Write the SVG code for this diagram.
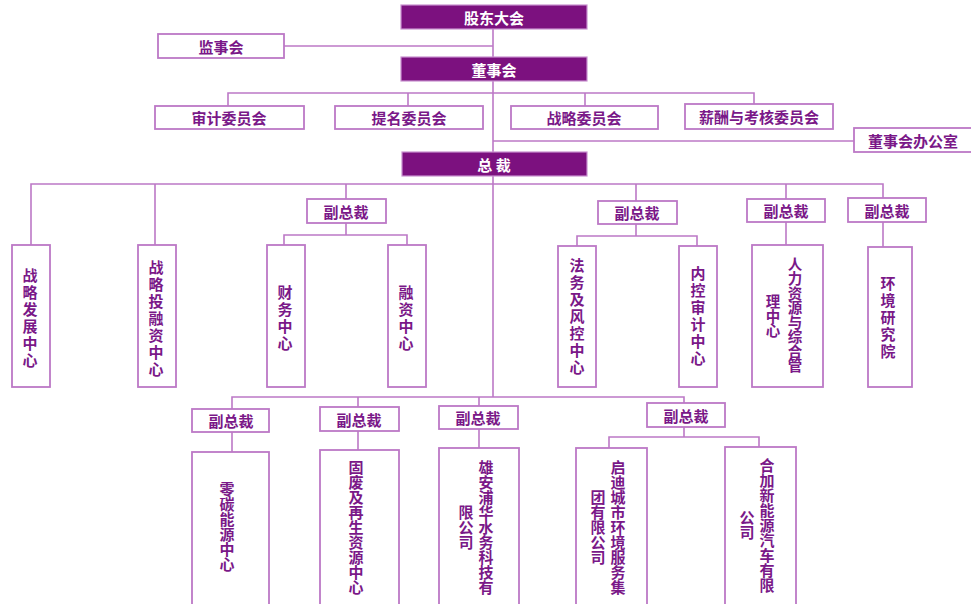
<svg xmlns="http://www.w3.org/2000/svg" width="971" height="604" viewBox="0 0 971 604">
<style>
.bg{fill:#ffffff}
.ln{stroke:#BC78C6;stroke-width:1.6;fill:none}
.dk{fill:#7C117F;stroke:#C891CF;stroke-width:1.2}
.wb{fill:#ffffff;stroke:#BC78C6;stroke-width:1.8}
.tw{fill:#ffffff;font-family:"Noto Sans CJK SC","Noto Sans",sans-serif;font-weight:bold;font-size:15px;text-anchor:middle;dominant-baseline:central}
.tp{fill:#7A1888;font-family:"Noto Sans CJK SC","Noto Sans",sans-serif;font-weight:bold;font-size:15px;text-anchor:middle;dominant-baseline:central}
.v{fill:#7A1888;font-family:"Noto Sans CJK SC","Noto Sans",sans-serif;font-weight:bold;font-size:15px;text-anchor:middle;writing-mode:vertical-rl;text-orientation:upright}
.v2{letter-spacing:2px}
.v3{font-size:14.5px}
</style>
<rect class="bg" x="0" y="0" width="971" height="604"/>
<g id="connectors">
<path class="ln" d="M493,29V397"/>
<path class="ln" d="M284,46H493"/>
<path class="ln" d="M228,106V93H754V104M408,93V106M585,93V106"/>
<path class="ln" d="M493,141H854"/>
<path class="ln" d="M31,245V184H883V198M155,184V245M346,184V200M636,184V201M786,184V199"/>
<path class="ln" d="M346,223V235M284,245V235H407V245"/>
<path class="ln" d="M636,224V236M577,246V236H697V246"/>
<path class="ln" d="M786,222V245"/>
<path class="ln" d="M883,222V247"/>
<path class="ln" d="M232,409V397H684V403M358,397V407M479,397V406"/>
<path class="ln" d="M232,432V452M358,431V450M479,429V448"/>
<path class="ln" d="M684,427V437M609,448V437H759V447"/>
</g>
<g id="gudongdahui"><rect class="dk" x="401" y="5" width="186" height="24"/><text class="tw" x="494" y="17">股东大会</text></g>
<g id="jianshihui"><rect class="wb" x="158" y="34" width="126" height="24"/><text class="tp" x="221" y="46">监事会</text></g>
<g id="dongshihui"><rect class="dk" x="401" y="57" width="186" height="24"/><text class="tw" x="494" y="69">董事会</text></g>
<g id="shenji"><rect class="wb" x="155" y="106" width="149" height="23"/><text class="tp" x="229" y="117.5">审计委员会</text></g>
<g id="timing"><rect class="wb" x="335" y="106" width="148" height="23"/><text class="tp" x="409" y="117.5">提名委员会</text></g>
<g id="zhanlue"><rect class="wb" x="511" y="106" width="147" height="23"/><text class="tp" x="584" y="117.5">战略委员会</text></g>
<g id="xinchou"><rect class="wb" x="685" y="104" width="148" height="25"/><text class="tp" x="759" y="116.5">薪酬与考核委员会</text></g>
<g id="dongban"><rect class="wb" x="854" y="128" width="125" height="24"/><text class="tp" x="913" y="140">董事会办公室</text></g>
<g id="zongcai"><rect class="dk" x="402" y="152" width="185" height="24"/><text class="tw" x="494" y="164">总 裁</text></g>
<g id="fzc1"><rect class="wb" x="307" y="199" width="79" height="24"/><text class="tp" x="346" y="211">副总裁</text></g>
<g id="fzc2"><rect class="wb" x="598" y="201" width="79" height="23"/><text class="tp" x="637" y="212.5">副总裁</text></g>
<g id="fzc3"><rect class="wb" x="747" y="199" width="78" height="23"/><text class="tp" x="786" y="210.5">副总裁</text></g>
<g id="fzc4"><rect class="wb" x="848" y="198" width="78" height="24"/><text class="tp" x="887" y="210">副总裁</text></g>
<g id="zlfz"><rect class="wb" x="12" y="245" width="38" height="142"/><text class="v v2" x="30" y="319">战略发展中心</text></g>
<g id="zltrz"><rect class="wb" x="138" y="245" width="38" height="142"/><text class="v v2" x="156" y="319">战略投融资中心</text></g>
<g id="caiwu"><rect class="wb" x="267" y="245" width="38" height="142"/><text class="v v2" x="285" y="319">财务中心</text></g>
<g id="rongzi"><rect class="wb" x="388" y="245" width="38" height="142"/><text class="v v2" x="406" y="319">融资中心</text></g>
<g id="fawu"><rect class="wb" x="558" y="246" width="38" height="141"/><text class="v v2" x="577" y="317">法务及风控中心</text></g>
<g id="neikong"><rect class="wb" x="679" y="246" width="38" height="141"/><text class="v v2" x="698" y="317">内控审计中心</text></g>
<g id="renli"><rect class="wb" x="752" y="245" width="71" height="142"/><text class="v v3" x="795" y="315">人力资源与综合管</text><text class="v v3" x="773" y="316">理中心</text></g>
<g id="huanjing"><rect class="wb" x="868" y="247" width="44" height="140"/><text class="v v2" x="888" y="318">环境研究院</text></g>
<g id="fzc5"><rect class="wb" x="192" y="409" width="77" height="23"/><text class="tp" x="231" y="420.5">副总裁</text></g>
<g id="fzc6"><rect class="wb" x="320" y="407" width="79" height="24"/><text class="tp" x="359" y="419">副总裁</text></g>
<g id="fzc7"><rect class="wb" x="439" y="406" width="79" height="23"/><text class="tp" x="478" y="417.5">副总裁</text></g>
<g id="fzc8"><rect class="wb" x="647" y="403" width="78" height="24"/><text class="tp" x="686" y="415">副总裁</text></g>
<g id="lingtan"><rect class="wb" x="192" y="452" width="77" height="160"/><text class="v" x="227" y="527">零碳能源中心</text></g>
<g id="gufei"><rect class="wb" x="320" y="450" width="79" height="162"/><text class="v" x="356" y="527">固废及再生资源中心</text></g>
<g id="xiongan"><rect class="wb" x="439" y="448" width="80" height="164"/><text class="v" x="486" y="527">雄安浦华水务科技有</text><text class="v" x="466" y="527">限公司</text></g>
<g id="qidi"><rect class="wb" x="576" y="448" width="71" height="164"/><text class="v" x="618" y="527">启迪城市环境服务集</text><text class="v" x="598" y="527">团有限公司</text></g>
<g id="hejia"><rect class="wb" x="725" y="447" width="71" height="165"/><text class="v" x="767" y="525">合加新能源汽车有限</text><text class="v" x="747" y="525">公司</text></g>
</svg>
